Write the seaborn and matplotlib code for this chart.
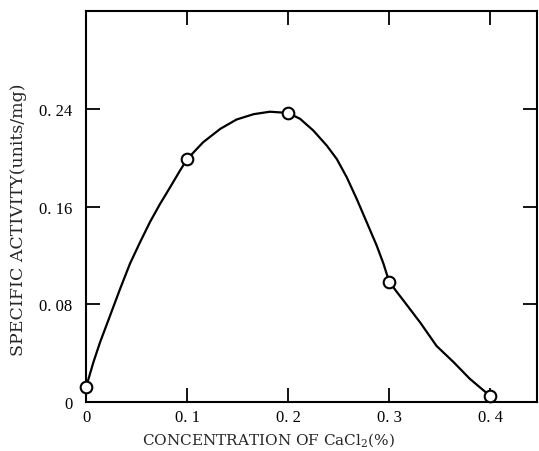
import numpy as np
import pandas as pd
import matplotlib
matplotlib.use("Agg")
import matplotlib.pyplot as plt
import seaborn as sns

# measured points
conc = [0.0, 0.1, 0.2, 0.3, 0.4]
activity = [0.012, 0.199, 0.237, 0.098, 0.005]

# hand-drawn smooth curve
curve_x = [0.0, 0.0073, 0.0139, 0.0238, 0.0337, 0.0436, 0.0535, 0.0634, 0.0733, 0.0832,
           0.0931, 0.1, 0.116, 0.133, 0.149, 0.166, 0.182, 0.2, 0.2119, 0.225, 0.2383,
           0.2482, 0.2581, 0.268, 0.2779, 0.2878, 0.2944, 0.3, 0.307, 0.314, 0.331, 0.347,
           0.364, 0.38, 0.4]
curve_y = [0.012, 0.0326, 0.049, 0.0708, 0.0927, 0.1136, 0.131, 0.1477, 0.1624, 0.176,
           0.1898, 0.199, 0.213, 0.224, 0.2316, 0.236, 0.238, 0.237, 0.2322, 0.2226, 0.2103,
           0.1993, 0.1843, 0.1665, 0.1474, 0.1282, 0.1136, 0.099, 0.091, 0.0835, 0.065, 0.046,
           0.0326, 0.019, 0.005]

xticks = [0, 0.1, 0.2, 0.3, 0.4]
xticklabels = ["0", "0. 1", "0. 2", "0. 3", "0. 4"]
yticks = [0, 0.08, 0.16, 0.24]
yticklabels = ["0", "0. 08", "0. 16", "0. 24"]

sns.set_style("ticks")
plt.rcParams["font.family"] = ["Liberation Serif", "DejaVu Serif"]
plt.rcParams["mathtext.fontset"] = "custom"
plt.rcParams["mathtext.rm"] = "DejaVu Serif"

pts = pd.DataFrame({"x": conc, "y": activity})
crv = pd.DataFrame({"x": curve_x, "y": curve_y})

fig = plt.figure(figsize=(5.39, 4.52), dpi=100)
ax = fig.add_axes([0.1596, 0.1084, 0.8367, 0.8651])

sns.lineplot(data=crv, x="x", y="y", color="black", linewidth=1.6, sort=False, ax=ax)
sns.scatterplot(data=pts, x="x", y="y", s=70, facecolor="white", edgecolor="black",
                linewidth=1.5, zorder=5, clip_on=False, ax=ax)

ax.set_xlim(0, 0.4465)
ax.set_ylim(0, 0.3206)
ax.set_xticks(xticks)
ax.set_xticklabels(xticklabels)
ax.set_yticks(yticks)
ax.set_yticklabels(yticklabels)
ax.tick_params(direction="in", length=10, width=1.3, top=True, right=True,
               labelsize=12, colors="black")
ax.tick_params(axis="y", pad=10)
ax.tick_params(axis="x", pad=5)
for s in ax.spines.values():
    s.set_linewidth(1.5)
    s.set_color("black")

ax.set_xlabel(r"CONCENTRATION OF CaCl$_2$(%)", fontsize=11, family="DejaVu Serif")
ax.xaxis.set_label_coords(0.404, -0.072)
ax.set_ylabel("SPECIFIC ACTIVITY(units/mg)", fontsize=12.5, family="DejaVu Serif")
ax.yaxis.set_label_coords(-0.13, 0.468)

fig.savefig("out.png", dpi=100)
